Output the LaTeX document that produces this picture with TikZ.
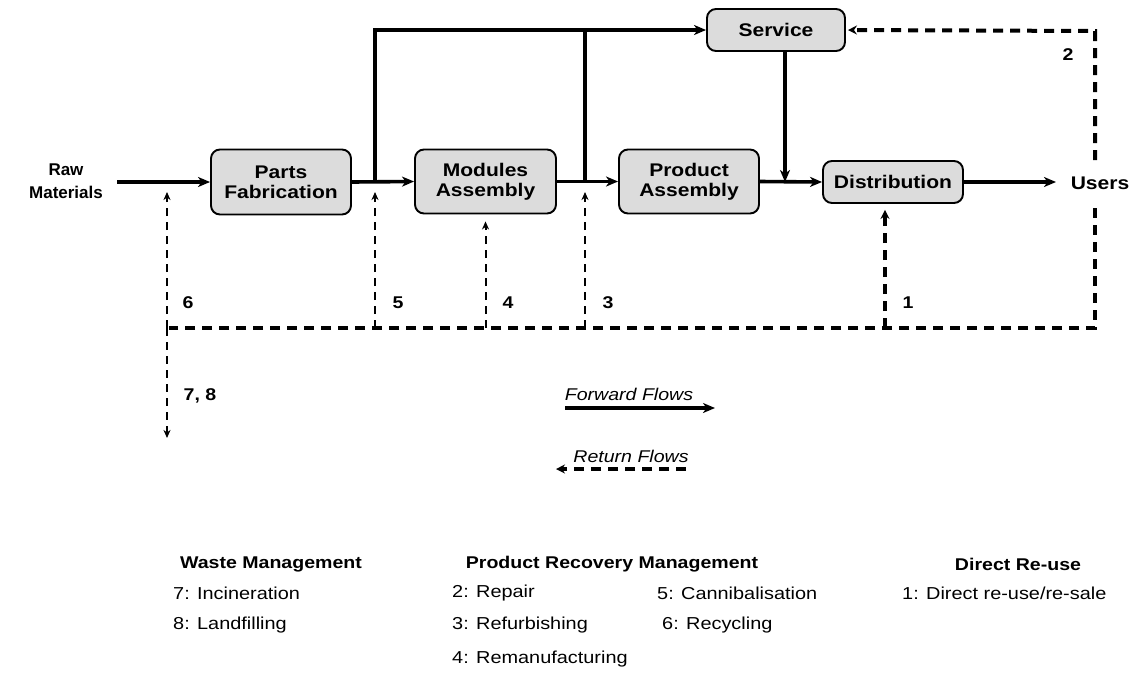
\documentclass[tikz,border=0pt]{standalone}
\usepackage{fontspec}
\setmainfont{Liberation Sans}[FakeStretch=1.15]
\newfontfamily\rawfont{Liberation Sans}
\usetikzlibrary{arrows.meta}
\definecolor{boxgray}{HTML}{DCDCDC}
\begin{document}
\begin{tikzpicture}[x=1pt,y=-1pt,
  box/.style={draw=black, line width=1.9pt, fill=boxgray, rounded corners=9pt,
    align=center, inner sep=0pt, font=\fontsize{18.3}{20}\selectfont\bfseries},
  plain/.style={align=center, inner sep=0pt, font=\fontsize{18.3}{23}\selectfont\bfseries},
  fwd/.style={line width=3.6pt, -{Stealth[length=12pt,width=10pt,inset=3.5pt]}},
  fwdline/.style={line width=3.6pt},
  retthick/.style={line width=4pt, dash pattern=on 10pt off 7pt},
  retthin/.style={line width=2pt, dash pattern=on 8pt off 6pt},
  smallhead/.style={-{Stealth[length=9pt,width=9pt,inset=3pt]}},
  thinhead/.style={-{Stealth[length=8pt,width=7pt,inset=2.5pt]}},
  num/.style={inner sep=0pt, font=\fontsize{17}{18}\selectfont\bfseries},
  flowtxt/.style={inner sep=0pt, font=\fontsize{17}{18}\selectfont\itshape},
  head/.style={inner sep=0pt, font=\fontsize{17}{18}\selectfont\bfseries},
  item/.style={inner sep=0pt, anchor=west, font=\fontsize{17.3}{18}\selectfont}
]
\useasboundingbox (0,0) rectangle (1134,673);

% nodes
\node[align=center, inner sep=0pt, font=\rawfont\fontsize{17}{23}\selectfont\bfseries] (raw) at (66,181) {Raw\\Materials};
\node[box, minimum width=140pt, minimum height=65pt] (parts) at (281,182) {Parts\\Fabrication};
\node[box, minimum width=141pt, minimum height=64pt] (modules) at (485.5,181.5) {Modules\\Assembly};
\node[box, minimum width=140pt, minimum height=64pt] (product) at (689,181.5) {Product\\Assembly};
\node[box, minimum width=138pt, minimum height=42pt] (service) at (776,30) {Service};
\node[box, minimum width=140pt, minimum height=42pt] (dist) at (893,182) {Distribution};
\node[plain] (users) at (1100,183) {Users};

% coordinates
\coordinate (rawout) at (117,182);
\coordinate (j0) at (167,182);
\coordinate (j1) at (375,182);
\coordinate (j2) at (585,182);
\coordinate (j3) at (785,182);
\coordinate (uin) at (1056,182);
\coordinate (rtop) at (1095,31);
\coordinate (rub) at (1095,160);
\coordinate (rlb) at (1095,208);
\coordinate (rcorner) at (1095,328);
\coordinate (rleft) at (169,328);
\coordinate (r1) at (885,328);
\coordinate (r3) at (585,328);
\coordinate (r4) at (485.5,328);
\coordinate (r5) at (375,328);
\coordinate (r6) at (167,328);
\coordinate (waste) at (167,438);

% forward flows
\draw[fwd] (rawout) -- (parts.west);
\draw[fwd] (parts.east) -- (modules.west);
\draw[fwd] (modules.east) -- (product.west);
\draw[fwd] (product.east) -- (dist.west);
\draw[fwd] (dist.east) -- (uin);
\draw[fwd] (j1) |- (service.west);
\draw[fwdline] (j2) -- (j2 |- service.west);
\draw[fwd] (service.south -| j3) -- (j3);

% return flows
\draw[retthick, smallhead, shorten >=2pt] (rub) -- (rtop) -- (service.east);
\draw[retthick] (rlb) -- (rcorner) -- (rleft);
\draw[retthick, smallhead, shorten >=6pt] (r1) -- (r1 |- dist.south);
\draw[retthin, thinhead, shorten >=10pt] (r3) -- (j2);
\draw[retthin, thinhead, shorten >=7pt] (r4) -- (modules.south);
\draw[retthin, thinhead, shorten >=10pt] (r5) -- (j1);
\draw[retthin, thinhead, shorten >=10pt] (r6) -- (j0);
\draw[retthin, thinhead] (r6) -- (waste);

% labels
\node[num] (l1) at (908,303) {1};
\node[num] (l2) at (1068,55) {2};
\node[num] (l3) at (608,303) {3};
\node[num] (l4) at (508,303) {4};
\node[num] (l5) at (398,303) {5};
\node[num] (l6) at (188,303) {6};
\node[num] (l78) at (200,396) {7, 8};

% flow legend
\node[flowtxt] (fwdtxt) at (629,394) {Forward Flows};
\coordinate (fa) at (565,408);
\coordinate (fb) at (715,408);
\draw[fwd] (fa) -- (fb);
\node[flowtxt] (rettxt) at (631,456) {Return Flows};
\coordinate (ra) at (686,469);
\coordinate (rb) at (556,469);
\draw[retthick, smallhead] (ra) -- (rb);

% bottom legend
\node[head] (wm) at (271,564) {Waste Management};
\node[item] (i7) at (173,593) {7: Incineration};
\node[item] (i8) at (173,625) {8: Landfilling};
\node[head] (prm) at (612,564) {Product Recovery Management};
\node[item] (i2) at (452,593) {2: Repair};
\node[item] (i3) at (452,625) {3: Refurbishing};
\node[item] (i4) at (452,659) {4: Remanufacturing};
\node[item] (i5) at (657,593) {5: Cannibalisation};
\node[item] (i6) at (662,625) {6: Recycling};
\node[head] (dr) at (1018,564) {Direct Re-use};
\node[item] (i1) at (902,593) {1: Direct re-use/re-sale};
\end{tikzpicture}
\end{document}
